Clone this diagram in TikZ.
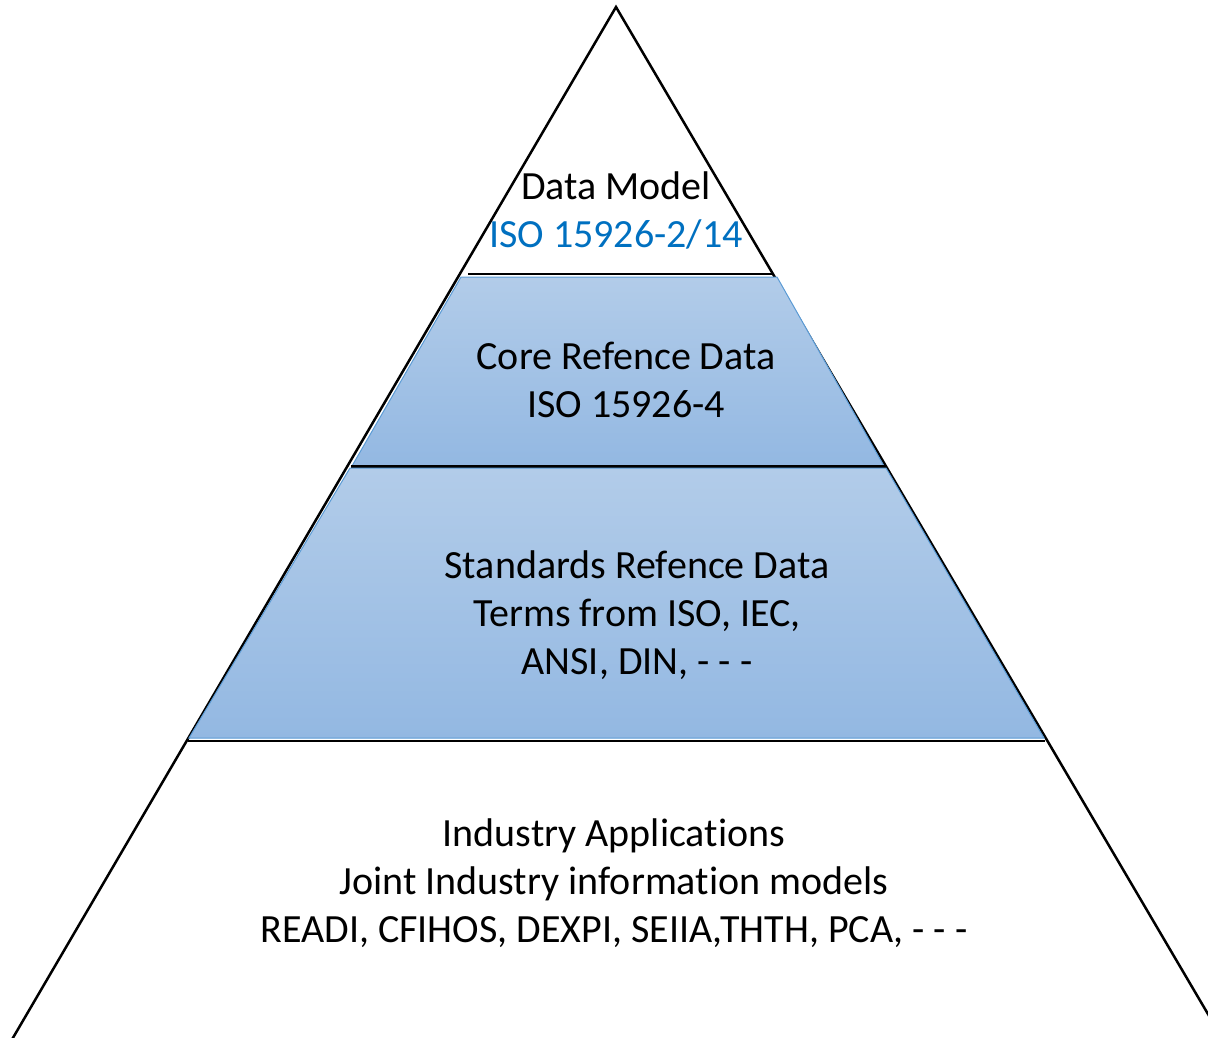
\documentclass[tikz,border=0pt]{standalone}
\usepackage{fontspec}
\setmainfont{Carlito}[Ligatures=NoCommon]
\definecolor{bandtop}{HTML}{B2CCE9}
\definecolor{bandbot}{HTML}{93B8E2}
\definecolor{bandedge}{HTML}{5B9BD5}
\definecolor{isoblue}{HTML}{0070C0}
\tikzset{
  band/.style={top color=bandtop,bottom color=bandbot,draw=bandedge,line width=1pt},
  layer/.style={line width=2.5pt,line cap=rect},
  lbl/.style={align=center,inner sep=0pt,font=\fontsize{40}{48}\selectfont}
}

\begin{document}
\begin{tikzpicture}[x=1pt,y=-1pt]
\useasboundingbox (0,0) rectangle (1208,1038);
\clip (0,0) rectangle (1208,1038);
% outline
\coordinate (apex) at (616,7);
\draw[layer,line join=miter] (0,1060) -- (apex) -- (1235,1060);
% top
\draw[layer] (469,274) -- (773,274);
% core band
\shade[band] (461,277) -- (777,277) -- (884,466) -- (352,466) -- cycle;
\draw[layer] (352,466.5) -- (886,466.5);
% standards band
\shade[band] (350,468) -- (886,468) -- (1044,738) -- (189,738) -- cycle;
\draw[layer] (189,741) -- (1044,741);
% labels
\node[lbl] (model) at (616,210) {Data Model\\\textcolor{isoblue}{ISO 15926-2/14}};
\node[lbl] (core) at (626,380) {Core Refence Data\\ISO 15926-4};
\node[lbl] (std) at (637,615) {Standards Refence Data\\Terms from ISO, IEC,\\ANSI, DIN, - - -};
\node[lbl] (apps) at (614,883) {Industry Applications\\Joint Industry information models\\READI, CFIHOS, DEXPI, SEIIA,THTH, PCA, - - -};
\end{tikzpicture}
\end{document}
